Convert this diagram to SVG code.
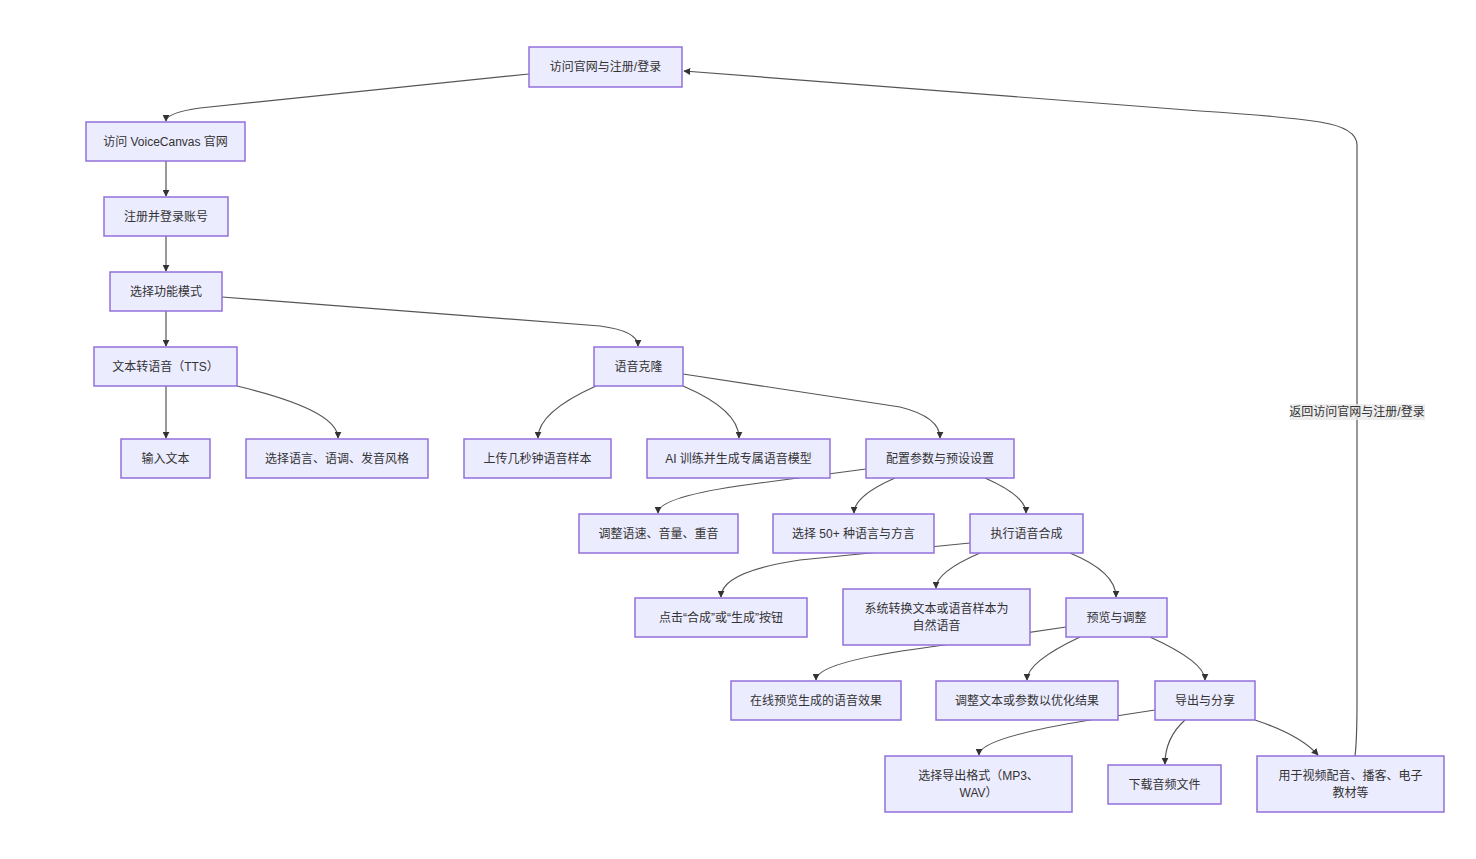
<svg xmlns="http://www.w3.org/2000/svg" width="1476" height="859" viewBox="0 0 1476 859">
<style>
.n rect{fill:#ECECFF;stroke:#9370DB;stroke-width:1.5}
.n text,.lbl text{font-family:"Liberation Sans","Noto Sans CJK SC",sans-serif;font-size:12px;fill:#333;text-anchor:middle;dominant-baseline:central}
.e path{fill:none;stroke:#555;stroke-width:1.2;marker-end:url(#ah)}
</style>
<defs>
<marker id="ah" viewBox="0 0 10 10" refX="9" refY="5" markerWidth="7" markerHeight="7" orient="auto" markerUnits="userSpaceOnUse">
<path d="M0,0 L10,5 L0,10 z" fill="#333"/>
</marker>
</defs>
<rect width="1476" height="859" fill="#fff"/>
<g id="connectors" class="e">
<path d="M529,74 L200,108 Q166,113 166,121"/>
<path d="M166,161 L166,196"/>
<path d="M166,236 L166,271"/>
<path d="M166,311 L166,346"/>
<path d="M222,297 L600,326 Q638,331 638,346"/>
<path d="M166,386 L166,438"/>
<path d="M237,386 Q338,410 338,438"/>
<path d="M596,386 Q538,412 538,438"/>
<path d="M683,386 Q739,410 739,438"/>
<path d="M683,374 L900,407 Q940,417 940,438"/>
<path d="M866,469 L760,483 Q658,496 658,513"/>
<path d="M895,478 Q854,496 854,513"/>
<path d="M985,478 Q1026,496 1026,513"/>
<path d="M970,543 L800,560 Q721,572 721,597"/>
<path d="M980,553 Q936,572 936,588"/>
<path d="M1070,553 Q1116,572 1116,597"/>
<path d="M1066,627 L930,647 Q816,662 816,680"/>
<path d="M1080,637 Q1027,662 1027,680"/>
<path d="M1150,637 Q1205,662 1205,680"/>
<path d="M1155,710 L1090,720 Q979,738 979,755"/>
<path d="M1185,720 Q1165,738 1165,764"/>
<path d="M1255,720 Q1300,735 1318,755"/>
<path d="M1355,756 Q1357,740 1357,700 L1357,145 Q1357,128 1320,122 Q1280,116 1200,111 L684,71"/>
</g>
<g id="edge-label" class="lbl">
<rect x="1290" y="404" width="135" height="16" fill="#e8e8e8" opacity="0.8"/>
<text x="1357" y="412">返回访问官网与注册/登录</text>
</g>
<g id="nA" class="n"><rect x="529" y="47" width="153" height="40"/><text x="605.5" y="67">访问官网与注册/登录</text></g>
<g id="nB" class="n"><rect x="86" y="122" width="159" height="39"/><text x="165.5" y="141.5">访问 VoiceCanvas 官网</text></g>
<g id="nC" class="n"><rect x="104" y="197" width="124" height="39"/><text x="166" y="216.5">注册并登录账号</text></g>
<g id="nD" class="n"><rect x="110" y="272" width="112" height="39"/><text x="166" y="291.5">选择功能模式</text></g>
<g id="nE" class="n"><rect x="94" y="347" width="143" height="39"/><text x="165.5" y="366.5">文本转语音（TTS）</text></g>
<g id="nF" class="n"><rect x="594" y="347" width="89" height="39"/><text x="638.5" y="366.5">语音克隆</text></g>
<g id="nG" class="n"><rect x="121" y="439" width="89" height="39"/><text x="165.5" y="458.5">输入文本</text></g>
<g id="nH" class="n"><rect x="246" y="439" width="182" height="39"/><text x="337" y="458.5">选择语言、语调、发音风格</text></g>
<g id="nI" class="n"><rect x="464" y="439" width="147" height="39"/><text x="537.5" y="458.5">上传几秒钟语音样本</text></g>
<g id="nJ" class="n"><rect x="647" y="439" width="183" height="39"/><text x="738.5" y="458.5">AI 训练并生成专属语音模型</text></g>
<g id="nK" class="n"><rect x="866" y="439" width="148" height="39"/><text x="940" y="458.5">配置参数与预设设置</text></g>
<g id="nL" class="n"><rect x="579" y="514" width="159" height="39"/><text x="658.5" y="533.5">调整语速、音量、重音</text></g>
<g id="nM" class="n"><rect x="773" y="514" width="161" height="39"/><text x="853.5" y="533.5">选择 50+ 种语言与方言</text></g>
<g id="nN" class="n"><rect x="970" y="514" width="113" height="39"/><text x="1026.5" y="533.5">执行语音合成</text></g>
<g id="nO" class="n"><rect x="635" y="598" width="172" height="39"/><text x="721" y="617.5">点击“合成”或“生成”按钮</text></g>
<g id="nP" class="n"><rect x="843" y="589" width="187" height="56"/><text x="936.5" y="608.5">系统转换文本或语音样本为</text><text x="936.5" y="625.5">自然语音</text></g>
<g id="nQ" class="n"><rect x="1066" y="598" width="101" height="39"/><text x="1116.5" y="617.5">预览与调整</text></g>
<g id="nR" class="n"><rect x="731" y="681" width="170" height="39"/><text x="816" y="700.5">在线预览生成的语音效果</text></g>
<g id="nS" class="n"><rect x="936" y="681" width="182" height="39"/><text x="1027" y="700.5">调整文本或参数以优化结果</text></g>
<g id="nT" class="n"><rect x="1155" y="681" width="100" height="39"/><text x="1205" y="700.5">导出与分享</text></g>
<g id="nU" class="n"><rect x="885" y="756" width="187" height="56"/><text x="978.5" y="775.5">选择导出格式（MP3、</text><text x="978.5" y="792.5">WAV）</text></g>
<g id="nV" class="n"><rect x="1108" y="765" width="113" height="39"/><text x="1164.5" y="784.5">下载音频文件</text></g>
<g id="nW" class="n"><rect x="1257" y="756" width="187" height="56"/><text x="1350.5" y="775.5">用于视频配音、播客、电子</text><text x="1350.5" y="792.5">教材等</text></g>
</svg>
